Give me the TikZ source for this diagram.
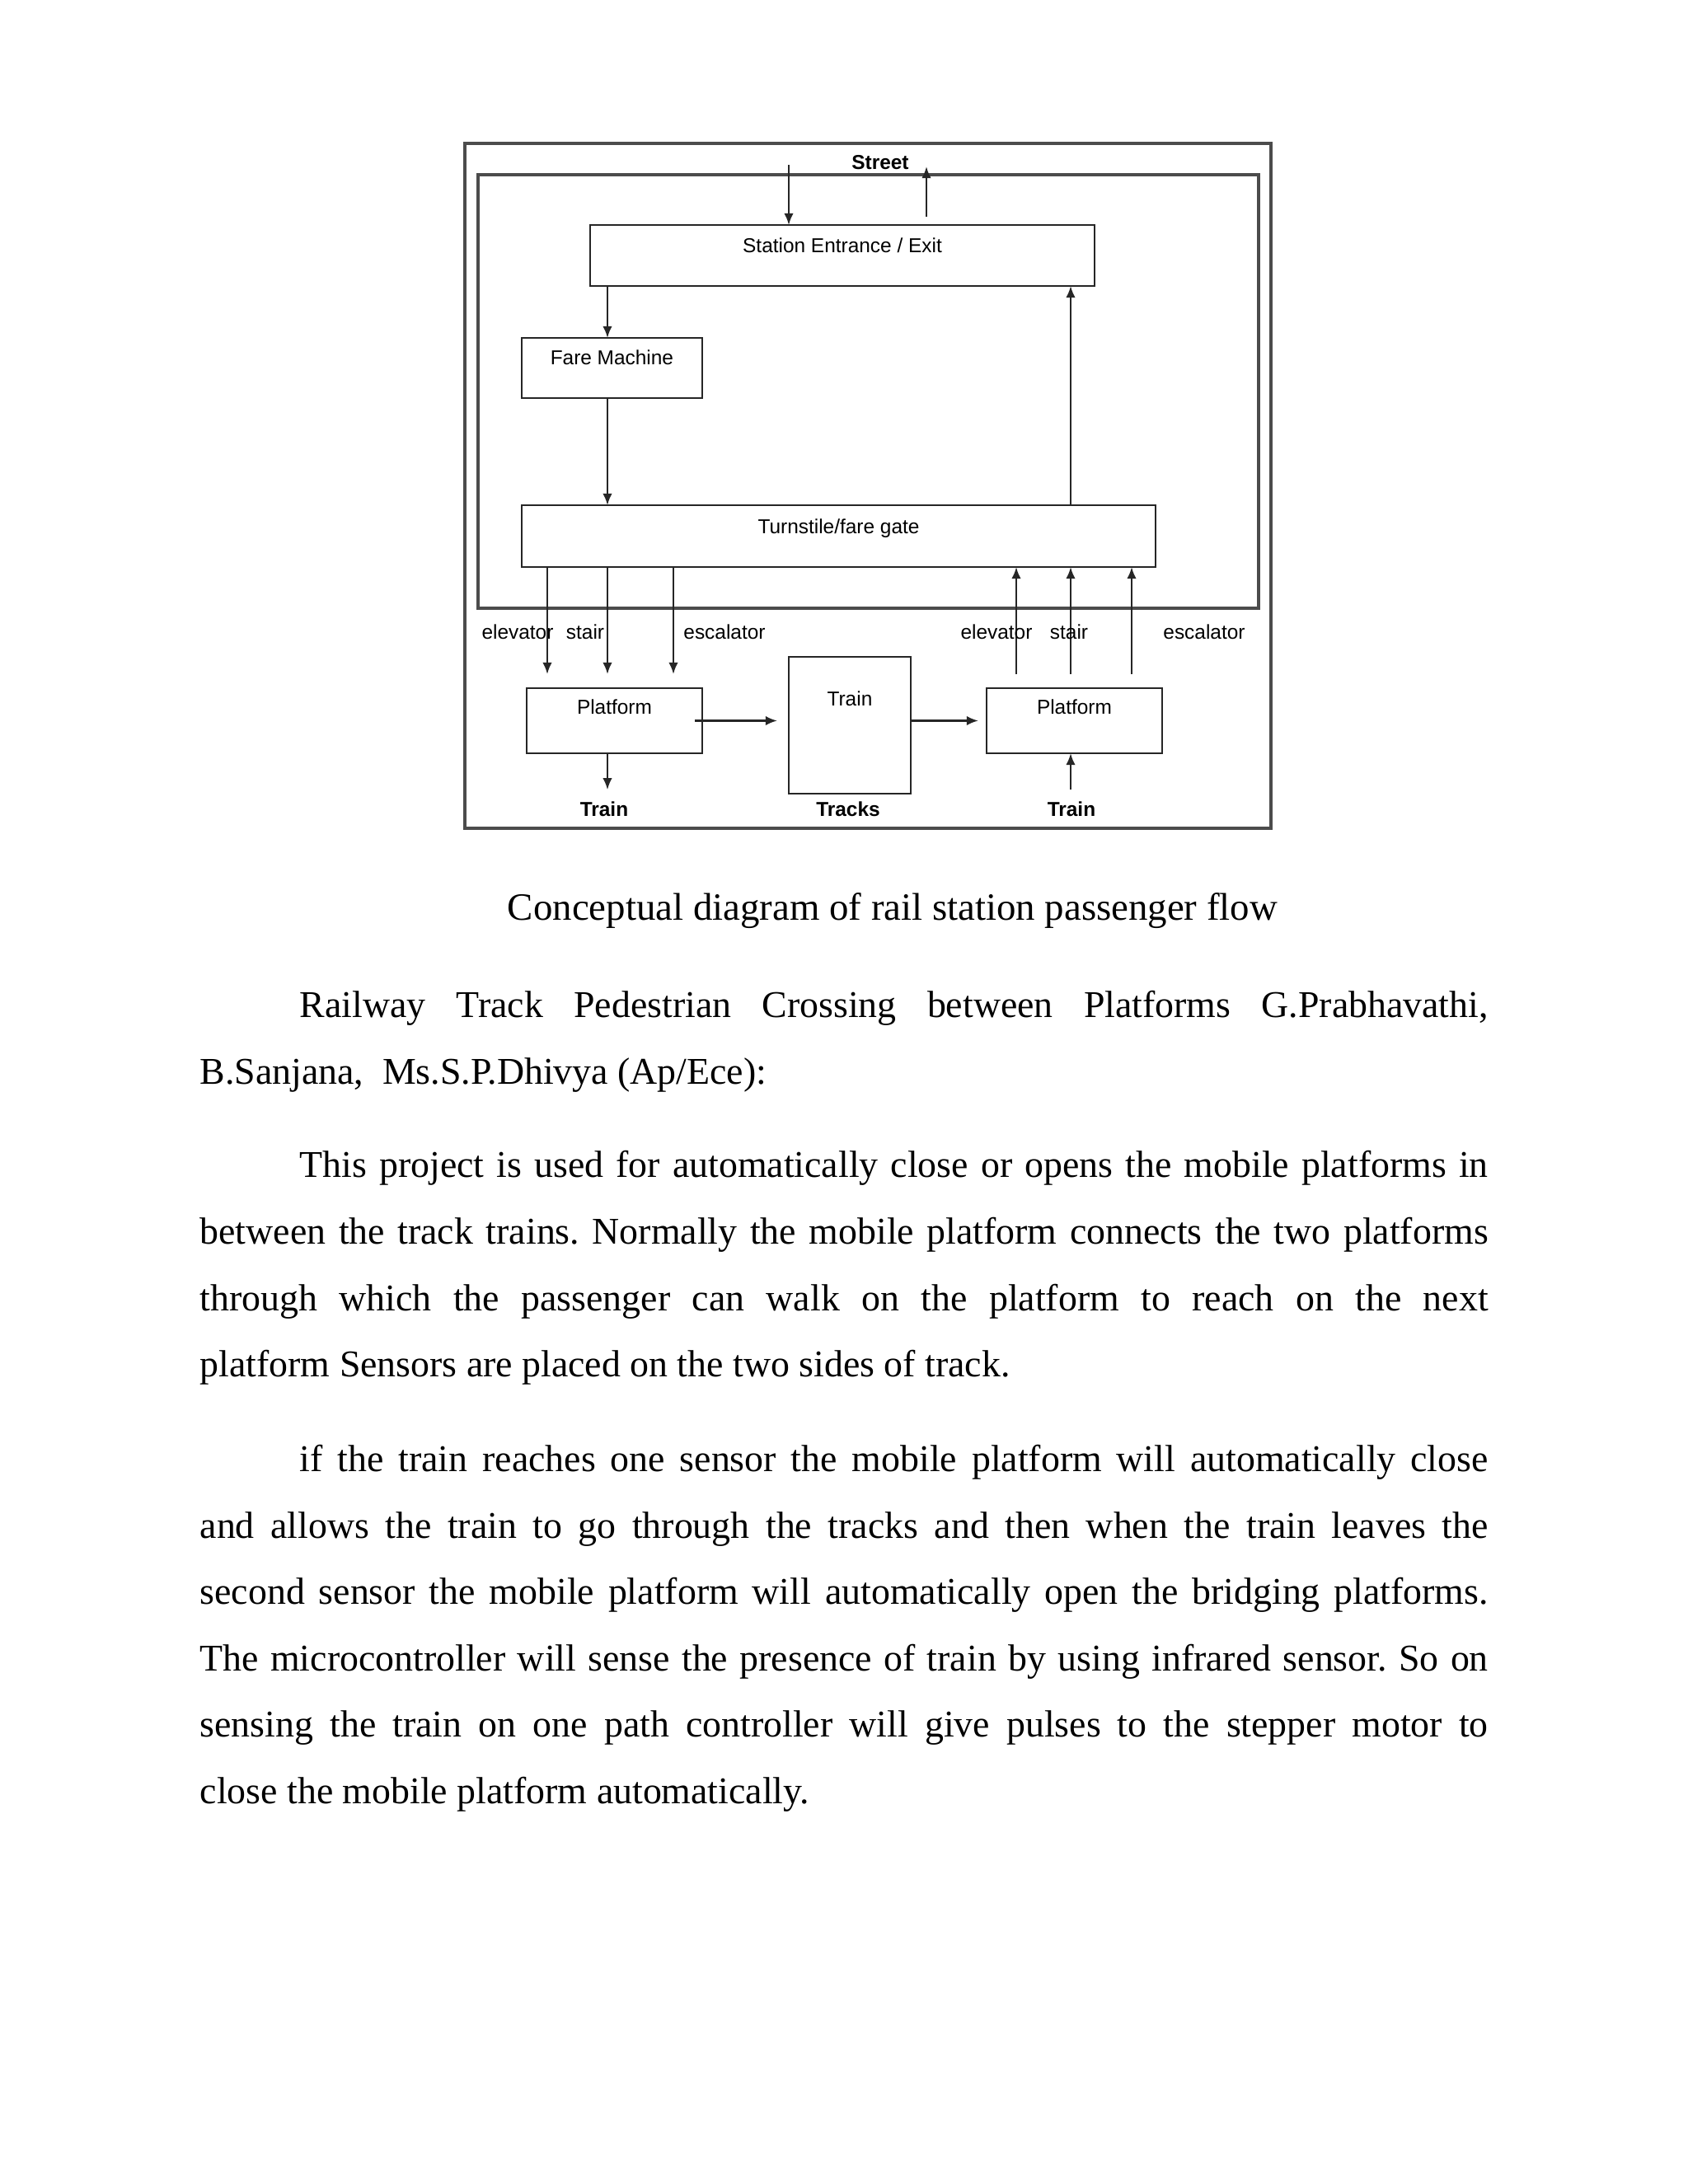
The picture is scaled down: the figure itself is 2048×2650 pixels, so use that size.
\documentclass[tikz,border=0pt]{standalone}
\usepackage{fontspec}
\setmainfont{Liberation Serif}
\setsansfont{Liberation Sans}
\usetikzlibrary{arrows.meta}
\frenchspacing

\newcommand\dg{\sffamily\fontsize{7.3}{8.8}\selectfont}
\newcommand\bodyfont{\rmfamily\fontsize{13.7}{16}\selectfont}

\begin{document}
\begin{tikzpicture}[x=0.29883pt, y=-0.29883pt, >={Latex[length=4.2pt,width=3.4pt]},
	frame/.style={draw=black!70, line width=1.1pt},
	box/.style={draw=black!85, line width=0.8pt, anchor=north west, inner sep=0pt, outer sep=0pt, font=\dg},
	flow/.style={->, draw=black!85, line width=0.7pt},
	lbl/.style={font=\dg, anchor=base, inner sep=0pt},
	tag/.style={font=\dg\bfseries, anchor=base, inner sep=4pt},
	line/.style={font=\bodyfont, anchor=base west, inner sep=0pt}]

\useasboundingbox[fill=white] (0,0) rectangle (2048,2650);

% frames
\draw[frame] (564,174) rectangle (1542,1005);
\draw[frame] (580,212) rectangle (1527,738);

% columns of the flow lines
\coordinate (ce) at (664,0);
\coordinate (ca) at (737,0);
\coordinate (cs) at (817,0);
\coordinate (cq) at (1233,0);
\coordinate (cr) at (1299,0);
\coordinate (cw) at (1373,0);

% boxes
\node[box, minimum width=182.9pt, text height=9.86pt, text depth=12.25pt] (entr) at (716,273) {Station Entrance / Exit};
\node[box, minimum width=65.4pt, text height=9.56pt, text depth=12.25pt] (fare) at (633,410) {Fare Machine};
\node[box, minimum width=229.8pt, text height=10.16pt, text depth=12.25pt] (gate) at (633,613) {Turnstile/fare gate};
\node[box, minimum width=63.65pt, text height=9.26pt, text depth=14.34pt] (platL) at (639,835) {Platform};
\node[box, minimum width=44.2pt, text height=17.63pt, text depth=31.97pt] (train) at (957,797) {Train};
\node[box, minimum width=63.65pt, text height=9.26pt, text depth=14.34pt] (platR) at (1197,835) {Platform};

% street
\node[tag, inner sep=0pt] (street) at (1068,205) {Street};
\coordinate (sin) at (957,200);
\coordinate (up) at (1124,263);
\coordinate (sout) at (1124,202);
\draw[flow] (sin) -- (entr.north -| sin);
\draw[flow] (up) -- (sout);

% inside the station
\draw[flow] (entr.south -| ca) -- (fare.north -| ca);
\draw[flow] (fare.south -| ca) -- (gate.north -| ca);
\draw[flow] (gate.north -| cr) -- (entr.south -| cr);

% down to the platform and back up
\foreach \c in {ce,ca,cs}
	\draw[flow] (gate.south -| \c) -- ++(0,130);
\foreach \c in {cq,cr,cw}
	\draw[flow] (gate.south -| \c) ++(0,130) -- (gate.south -| \c);

\node[lbl] (elevL) at (628,775) {elevator};
\node[lbl] (stairL) at (710,775) {stair};
\node[lbl] (escL) at (879,775) {escalator};
\node[lbl] (elevR) at (1209,775) {elevator};
\node[lbl] (stairR) at (1297,775) {stair};
\node[lbl] (escR) at (1461,775) {escalator};

% platforms and tracks
\draw[flow] ([xshift=-2.7pt]platL.east) -- ([xshift=-4.2pt]train.west |- platL.east);
\draw[flow] (train.east |- platR.west) -- ([xshift=-3pt]platR.west);

\node[tag] (trL) at (733,990) {Train};
\node[tag] (tracks) at (1029,990) {Tracks};
\node[tag] (trR) at (1300,990) {Train};
\draw[flow] (platL.south -| ca) -- (trL.north -| ca);
\draw[flow] (trR.north -| cr) -- (platR.south -| cr);

% caption and text
\node[font=\fontsize{14}{16}\selectfont, anchor=base, inner sep=0pt] (cap) at (1083,1116) {Conceptual diagram of rail station passenger flow};

\node[line] (p1a) at (363,1234) {\makebox[430.9pt][s]{Railway Track Pedestrian Crossing between Platforms G.Prabhavathi,}};
\node[line] (p1b) at (242,1315) {B.Sanjana,\ \ Ms.S.P.Dhivya (Ap/Ece):};

\node[line] (p2a) at (363,1428) {\makebox[430.9pt][s]{This project is used for automatically close or opens the mobile platforms in}};
\node[line] (p2b) at (242,1509) {\makebox[467.1pt][s]{between the track trains. Normally the mobile platform connects the two platforms}};
\node[line] (p2c) at (242,1590) {\makebox[467.1pt][s]{through which the passenger can walk on the platform to reach on the next}};
\node[line] (p2d) at (242,1670) {platform Sensors are placed on the two sides of track.};

\node[line] (p3a) at (363,1785) {\makebox[430.9pt][s]{if the train reaches one sensor the mobile platform will automatically close}};
\node[line] (p3b) at (242,1866) {\makebox[467.1pt][s]{and allows the train to go through the tracks and then when the train leaves the}};
\node[line] (p3c) at (242,1946) {\makebox[467.1pt][s]{second sensor the mobile platform will automatically open the bridging platforms.}};
\node[line] (p3d) at (242,2027) {\makebox[467.1pt][s]{The microcontroller will sense the presence of train by using infrared sensor. So on}};
\node[line] (p3e) at (242,2107) {\makebox[467.1pt][s]{sensing the train on one path controller will give pulses to the stepper motor to}};
\node[line] (p3f) at (242,2188) {close the mobile platform automatically.};
\end{tikzpicture}
\end{document}
